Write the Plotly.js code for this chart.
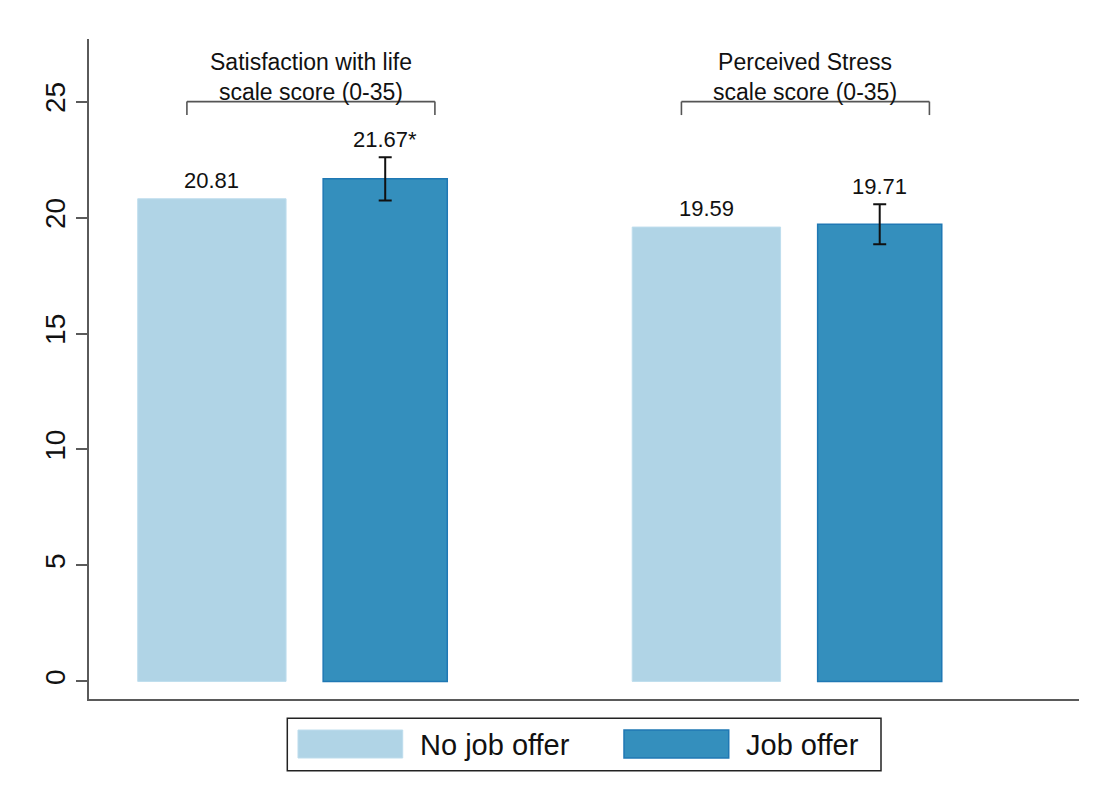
<!DOCTYPE html>
<html>
<head>
<meta charset="utf-8">
<script src="https://cdn.plot.ly/plotly-3.0.1.min.js"></script>
<style>
html,body{margin:0;padding:0;background:#fff;}
#chart{width:1097px;height:800px;}
</style>
</head>
<body>
<div id="chart"></div>
<script>
// ---- data ----
var categories = ["Satisfaction with life scale score (0-35)", "Perceived Stress scale score (0-35)"];
var headerLine1 = ["Satisfaction with life", "Perceived Stress"];
var headerLine2 = ["scale score (0-35)", "scale score (0-35)"];
var noOffer = [20.81, 19.59];
var jobOffer = [21.67, 19.71];
var jobOfferErr = [0.93, 0.86];
var jobOfferStars = ["*", ""];
var seriesNames = ["No job offer", "Job offer"];
var yTicks = [0, 5, 10, 15, 20, 25];

// ---- style ----
var FONT = "Arial, 'Liberation Sans', sans-serif";
var lightFill = "rgb(176,212,230)", lightLine = "rgb(190,221,237)";
var darkFill = "rgb(52,143,189)", darkLine = "rgb(31,120,180)";
var axisColor = "#5a5a5a";
var off1 = -0.313, w1 = 0.300, off2 = 0.062, w2 = 0.251;
var brLeft = -0.2135, brRight = 0.288, bracketY = 25, bracketDrop = 24.42;

var traces = [
  {type: "bar", name: seriesNames[0], x: categories, y: noOffer,
   offset: off1, width: w1,
   marker: {color: lightFill, line: {color: lightLine, width: 1}},
   hoverinfo: "y", showlegend: false},
  {type: "bar", name: seriesNames[1], x: categories, y: jobOffer,
   offset: off2, width: w2,
   marker: {color: darkFill, line: {color: darkLine, width: 1.5}},
   error_y: {type: "data", array: jobOfferErr, visible: true, color: "#111", thickness: 2, width: 6.5},
   hoverinfo: "y", showlegend: false}
];

var annotations = [];
var shapes = [];
for (var i = 0; i < categories.length; i++) {
  annotations.push({x: i + off1 + w1 / 2, y: noOffer[i], xref: "x", yref: "y",
    text: noOffer[i].toFixed(2), showarrow: false, yanchor: "bottom", yshift: 4,
    font: {family: FONT, size: 22, color: "#111"}});
  annotations.push({x: i + off2 + w2 / 2, y: jobOffer[i] + jobOfferErr[i], xref: "x", yref: "y",
    text: jobOffer[i].toFixed(2) + jobOfferStars[i], showarrow: false, yanchor: "bottom", yshift: 3,
    font: {family: FONT, size: 22, color: "#111"}});
  var cx = i + (brLeft + brRight) / 2;
  annotations.push({x: cx, y: bracketY, xref: "x", yref: "y", text: headerLine1[i] + "<br>" + headerLine2[i],
    showarrow: false, yanchor: "bottom", yshift: -5.5, font: {family: FONT, size: 23, color: "#111"}});
  var bl = {color: "#555", width: 1.6};
  shapes.push({type: "line", xref: "x", yref: "y", x0: i + brLeft, x1: i + brRight, y0: bracketY, y1: bracketY, line: bl});
  shapes.push({type: "line", xref: "x", yref: "y", x0: i + brLeft, x1: i + brLeft, y0: bracketY, y1: bracketDrop, line: bl});
  shapes.push({type: "line", xref: "x", yref: "y", x0: i + brRight, x1: i + brRight, y0: bracketY, y1: bracketDrop, line: bl});
}

// custom legend (paper coords)
shapes.push({type: "rect", xref: "paper", yref: "paper", x0: 0.2003, x1: 0.8, y0: -0.1086, y1: -0.0292,
  line: {color: "#222", width: 1.5}, fillcolor: "#fff"});
shapes.push({type: "rect", xref: "paper", yref: "paper", x0: 0.2111, x1: 0.3169, y0: -0.0894, y1: -0.047,
  line: {color: lightLine, width: 1}, fillcolor: lightFill});
shapes.push({type: "rect", xref: "paper", yref: "paper", x0: 0.5404, x1: 0.6462, y0: -0.0894, y1: -0.047,
  line: {color: darkLine, width: 1.5}, fillcolor: darkFill});
annotations.push({xref: "paper", yref: "paper", x: 0.3323, y: -0.0695, xanchor: "left", yanchor: "middle",
  text: seriesNames[0], showarrow: false, font: {family: FONT, size: 29, color: "#111"}});
annotations.push({xref: "paper", yref: "paper", x: 0.6613, y: -0.0695, xanchor: "left", yanchor: "middle",
  text: seriesNames[1], showarrow: false, font: {family: FONT, size: 29, color: "#111"}});

var layout = {
  width: 1097, height: 800,
  margin: {l: 89, r: 18, t: 39, b: 101, pad: 0},
  paper_bgcolor: "#fff", plot_bgcolor: "#fff",
  barmode: "overlay",
  showlegend: false,
  font: {family: FONT, color: "#111"},
  xaxis: {type: "category", range: [-0.4115, 1.5905], showticklabels: false, ticks: "",
    showgrid: false, zeroline: false, showline: true, linecolor: axisColor, linewidth: 2},
  yaxis: {range: [-0.76, 27.70], tickvals: yTicks, ticktext: yTicks.map(String), tickangle: -90,
    ticks: "outside", ticklen: 11, tickwidth: 2, tickcolor: axisColor,
    showgrid: false, zeroline: false, showline: true, linecolor: axisColor, linewidth: 2,
    tickfont: {family: FONT, size: 28, color: "#111"}},
  annotations: annotations,
  shapes: shapes
};

Plotly.newPlot("chart", traces, layout, {displayModeBar: false, staticPlot: true});
</script>
</body>
</html>
